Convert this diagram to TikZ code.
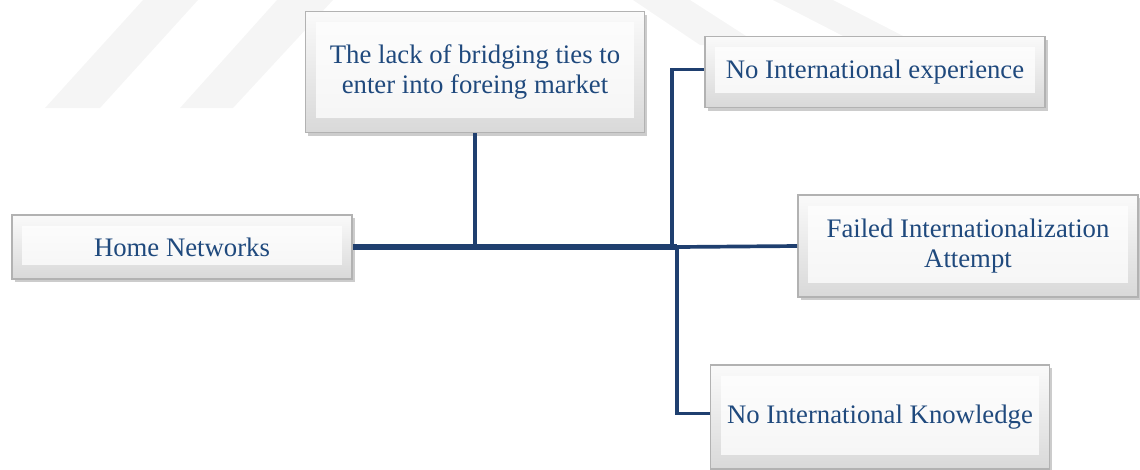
\documentclass[tikz,border=0pt]{standalone}
\usepackage{fontspec}
\setmainfont{Liberation Serif}
\usetikzlibrary{shadows}
\definecolor{navytext}{HTML}{1F497D}
\definecolor{navyline}{HTML}{1F3F6F}
\tikzset{
  bevelbox/.style={draw=gray!60,line width=0.5pt,top color=gray!4,bottom color=gray!30,
    drop shadow={opacity=0.4,shadow xshift=0.8pt,shadow yshift=-0.9pt},
    path picture={\fill[white,opacity=0.75]([shift={(3pt,-3pt)}]path picture bounding box.north west)
      rectangle ([shift={(-3pt,4pt)}]path picture bounding box.south east);},
    text=navytext,align=center,inner sep=0pt,font=\fontsize{7.6}{8.5}\selectfont},
  link/.style={navyline,line width=1.05pt},
  mainlink/.style={navyline,line width=1.6pt}
}
\begin{document}
\begin{tikzpicture}[x=0.01cm,y=-0.01cm]
        \useasboundingbox (0,0) rectangle (1140,469);
        % watermark stripes
        \fill[gray!8](45,108)--(100,108)--(198,0)--(143,0)--cycle;
        \fill[gray!8](180,108)--(233,108)--(333,0)--(277,0)--cycle;
        \fill[gray!8](633,0)--(690,0)--(760,45)--(700,45)--cycle;
        \fill[gray!8](773,0)--(833,0)--(905,37)--(845,37)--cycle;
        % boxes
        \node[bevelbox,minimum width=3.40cm,minimum height=0.64cm](home)at(182,247){Home Networks};
        \node[bevelbox,minimum width=3.39cm,minimum height=1.21cm](lack)at(475,72){The lack of bridging ties to\\enter into foreing market};
        \node[bevelbox,minimum width=3.40cm,minimum height=0.71cm](exp)at(875,72){No International experience};
        \node[bevelbox,minimum width=3.40cm,minimum height=1.02cm](fail)at(968,246){Failed Internationalization\\Attempt};
        \node[bevelbox,minimum width=3.39cm,minimum height=1.04cm](know)at(880,417){No International Knowledge};
        % junctions
        \coordinate(j1)at(475,247);
        \coordinate(j2)at(672,247);
        \coordinate(j3)at(677,247);
        \draw[link](lack.south)--(j1);
        \draw[link](j2)|-([yshift=0.7pt]exp.west);
        \draw[link](j3)--(fail.west);
        \draw[link](j3)|-([yshift=1pt]know.west);
        \draw[mainlink](home.east)--(j3);
    \end{tikzpicture}
\end{document}
